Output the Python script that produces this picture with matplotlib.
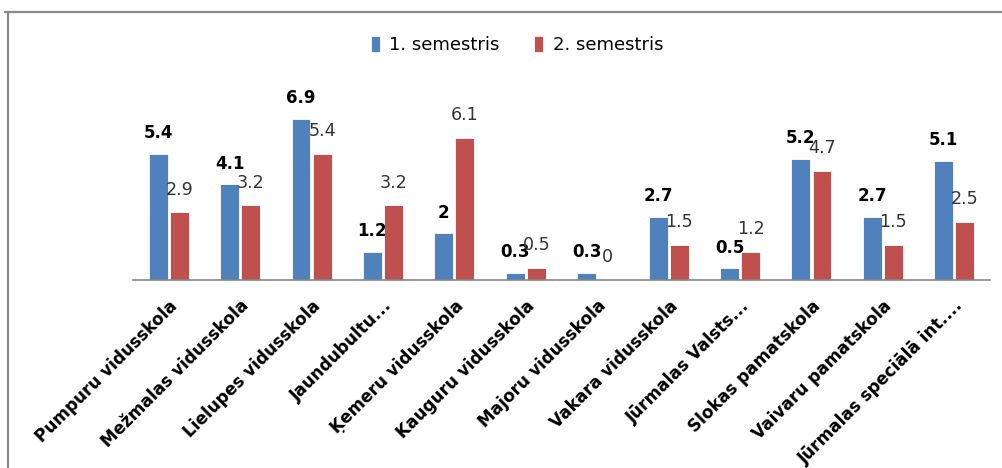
import matplotlib.pyplot as plt
import numpy as np
from matplotlib.lines import Line2D

schools = ['Pumpuru vidusskola', 'Mežmalas vidusskola', 'Lielupes vidusskola',
           'Jaundubultu...', 'Ķemeru vidusskola', 'Kauguru vidusskola',
           'Majoru vidusskola', 'Vakara vidusskola', 'Jūrmalas Valsts...',
           'Slokas pamatskola', 'Vaivaru pamatskola', 'Jūrmalas speciālā int....']
sem1 = [5.4, 4.1, 6.9, 1.2, 2, 0.3, 0.3, 2.7, 0.5, 5.2, 2.7, 5.1]
sem2 = [2.9, 3.2, 5.4, 3.2, 6.1, 0.5, 0, 1.5, 1.2, 4.7, 1.5, 2.5]
series_names = ['1. semestris', '2. semestris']

BLUE = '#4F81BD'
RED = '#C0504D'

plt.rcParams['font.family'] = ['DejaVu Sans']

fig = plt.figure(figsize=(10.02, 4.68), dpi=100)
ax = fig.add_axes([133 / 1002, 1 - 280 / 468, 857 / 1002, 188 / 468])

x = np.arange(len(schools))
w = 0.265
gap = 0.03
b1 = ax.bar(x - (w + gap) / 2, sem1, w, color=BLUE, edgecolor='white', linewidth=0.6,
            label=series_names[0])
b2 = ax.bar(x + (w + gap) / 2, sem2, w, color=RED, edgecolor='white', linewidth=0.6,
            label=series_names[1])

for rect, v in zip(b1, sem1):
    ax.annotate(f'{v:g}', (rect.get_x() + rect.get_width() / 2, rect.get_height()),
                xytext=(0, 15), textcoords='offset points', ha='center', va='center',
                fontsize=12, fontweight='bold', color='black')
for rect, v in zip(b2, sem2):
    ax.annotate(f'{v:g}', (rect.get_x() + rect.get_width() / 2, rect.get_height()),
                xytext=(0, 16.5), textcoords='offset points', ha='center', va='center',
                fontsize=12.6, color='#333333')

ax.set_xlim(-0.5, len(schools) - 0.5)
ax.set_ylim(0, 8.07)
ax.set_yticks([])
ax.set_xticks(x)
ax.set_xticklabels(schools, rotation=45, ha='right', rotation_mode='anchor',
                   fontsize=12.2, fontweight='bold')
ax.tick_params(axis='x', length=0, pad=12)
for s in ['top', 'right', 'left']:
    ax.spines[s].set_visible(False)
ax.spines['bottom'].set_color('#868686')
ax.spines['bottom'].set_linewidth(1.2)

fig.legend(loc='center', bbox_to_anchor=(517 / 1002, 1 - 45 / 468), ncol=2,
           frameon=False, fontsize=13, handlelength=0.52, handleheight=0.95,
           handletextpad=0.5, columnspacing=1.9)

# chart border
fig.add_artist(Line2D([5 / 1002, 1], [1 - 12 / 468] * 2, color='#8a8a8a', lw=1.6,
                      transform=fig.transFigure))
fig.add_artist(Line2D([8 / 1002] * 2, [0, 1 - 12 / 468], color='#8a8a8a', lw=1.6,
                      transform=fig.transFigure))

fig.savefig('out.png', dpi=100, facecolor='white')
